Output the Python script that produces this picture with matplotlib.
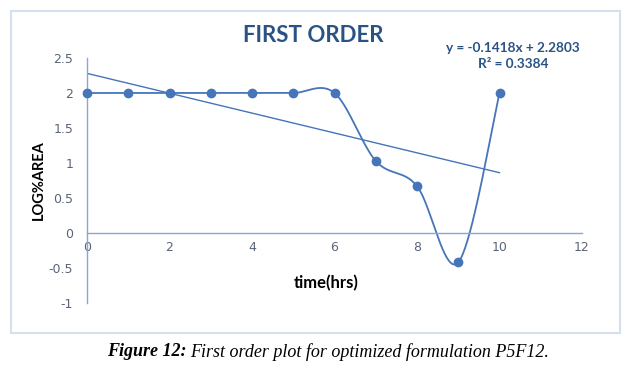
import matplotlib.pyplot as plt
from matplotlib.patches import Rectangle
import numpy as np

# data
time_hrs = [0, 1, 2, 3, 4, 5, 6, 7, 8, 9, 10]
log_area = [2, 2, 2, 2, 2, 2, 2, 1.03, 0.67, -0.42, 2]
x_ticks = [0, 2, 4, 6, 8, 10, 12]
y_ticks = [-1, -0.5, 0, 0.5, 1, 1.5, 2, 2.5]
y_tick_labels = ["-1", "-0.5", "0", "0.5", "1", "1.5", "2", "2.5"]

blue = "#4675B9"
axis_blue = "#86A8D6"
title_blue = "#2A5384"


def smooth_curve(xs, ys, n=40):
    # excel style smoothed line (catmull-rom as bezier segments)
    pts = np.column_stack([xs, ys]).astype(float)
    out = []
    for i in range(len(pts) - 1):
        p0 = pts[max(i - 1, 0)]
        p1 = pts[i]
        p2 = pts[i + 1]
        p3 = pts[min(i + 2, len(pts) - 1)]
        b1 = p1 + (p2 - p0) / 6
        b2 = p2 - (p3 - p1) / 6
        t = np.linspace(0, 1, n)[:, None]
        seg = ((1 - t) ** 3) * p1 + 3 * t * (1 - t) ** 2 * b1 + 3 * t ** 2 * (1 - t) * b2 + t ** 3 * p2
        out.append(seg)
    out = np.vstack(out)
    return out[:, 0], out[:, 1]


fig = plt.figure(figsize=(6.32, 3.74), dpi=100)
fig.patch.set_facecolor("white")

# chart area frame
fig.patches.append(Rectangle((11 / 632, 1 - 333 / 374), 609 / 632, 322 / 374,
                             transform=fig.transFigure, fill=False,
                             edgecolor="#D5E0EF", linewidth=1.5))

ax = fig.add_axes([87 / 632, 1 - 303 / 374, 495 / 632, 245 / 374])
ax.set_xlim(0, 12)
ax.set_ylim(-1, 2.5)

for s in ["top", "right"]:
    ax.spines[s].set_visible(False)
ax.spines["bottom"].set_position(("data", 0))
ax.spines["bottom"].set_color(axis_blue)
ax.spines["left"].set_color(axis_blue)
ax.spines["bottom"].set_linewidth(1.0)
ax.spines["left"].set_linewidth(1.0)

ax.set_xticks(x_ticks)
ax.set_yticks(y_ticks)
ax.set_yticklabels(y_tick_labels)
ax.tick_params(length=0, labelsize=9, colors="#5A6478", pad=10)
ax.tick_params(axis="x", pad=6)

sx, sy = smooth_curve(time_hrs, log_area)
ax.plot(sx, sy, color=blue, linewidth=1.3, clip_on=False)
ax.plot(time_hrs, log_area, "o", color=blue, markersize=6, clip_on=False, zorder=3)

# linear trendline
slope, intercept = np.polyfit(time_hrs, log_area, 1)
tx = np.array([time_hrs[0], time_hrs[-1]])
ax.plot(tx, slope * tx + intercept, color=blue, linewidth=1.0)

fig.text(313 / 632, 1 - 36 / 374, "FIRST ORDER", ha="center", va="center",
         fontsize=16, fontweight="bold", color=title_blue, family="Lato")
fig.text(513 / 632, 1 - 48 / 374, "y = -0.1418x + 2.2803", ha="center", va="center",
         fontsize=9.8, fontweight="bold", color=title_blue, family="Lato")
fig.text(513 / 632, 1 - 64 / 374, "R² = 0.3384", ha="center", va="center",
         fontsize=9.8, fontweight="bold", color=title_blue, family="Lato")

fig.text(39 / 632, 1 - 180 / 374, "LOG%AREA", rotation=90, ha="center", va="center",
         fontsize=10.5, fontweight="bold", color="black", family="Lato")
fig.text(326 / 632, 1 - 283 / 374, "time(hrs)", ha="center", va="center",
         fontsize=12, fontweight="bold", color="black", family="Lato")

cap1 = fig.text(107 / 632, 1 - 352 / 374, "Figure 12:", ha="left", va="center",
                fontsize=13, fontweight="bold", fontstyle="italic", family="Liberation Serif")
fig.canvas.draw()
bb = cap1.get_window_extent()
fig.text((bb.x1 + 4) / 632, 1 - 352 / 374, "First order plot for optimized formulation P5F12.",
         ha="left", va="center", fontsize=13, fontstyle="italic", family="Liberation Serif")

fig.savefig("out.png", dpi=100)
